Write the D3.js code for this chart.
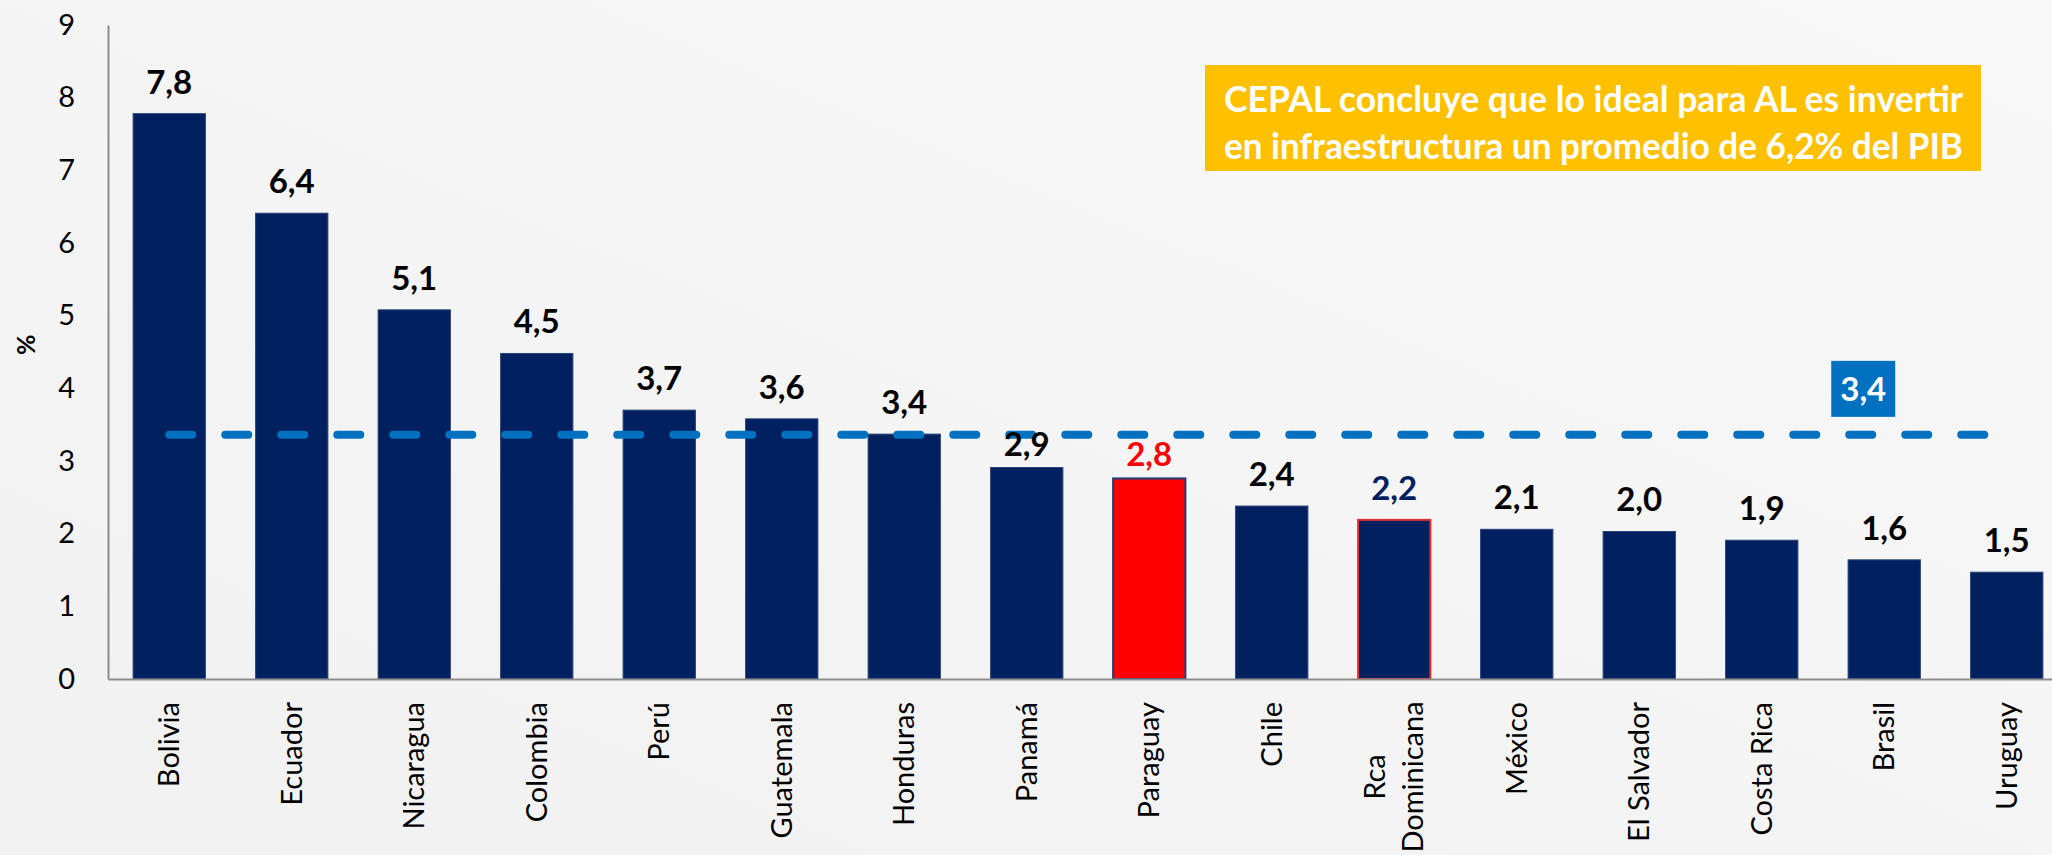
<!DOCTYPE html>
<html>
<head>
<meta charset="utf-8">
<script src="https://cdn.jsdelivr.net/npm/d3@7"></script>
<style>
  html, body { margin: 0; padding: 0; }
  body { width: 2052px; height: 855px; overflow: hidden; background: #f4f4f4; }
  svg { display: block; font-family: Lato, "Noto Sans", sans-serif; }
</style>
</head>
<body>
<svg id="chart"></svg>
<script>
// data
const countries = ['Bolivia', 'Ecuador', 'Nicaragua', 'Colombia', 'Perú', 'Guatemala', 'Honduras', 'Panamá',
    'Paraguay', 'Chile', 'Rca\nDominicana', 'México', 'El Salvador', 'Costa Rica', 'Brasil', 'Uruguay']
const values = [7.78, 6.41, 5.08, 4.48, 3.70, 3.58, 3.37, 2.91, 2.76, 2.38, 2.19, 2.06, 2.03, 1.91, 1.64, 1.47]
const average = 3.36
const yTicks = [0, 1, 2, 3, 4, 5, 6, 7, 8, 9]
const noteLines = ['CEPAL concluye que lo ideal para AL es invertir', 'en infraestructura un promedio de 6,2% del PIB']

const width = 2052
const height = 855
const margin = { top: 25, right: -16, bottom: 176, left: 108 }

const navy = '#002060'
const fmt = v => d3.format('.1f')(v).replace('.', ',')

const svg = d3.select('#chart')
    .attr('width', width)
    .attr('height', height)

// soft background
const grad = svg.append('defs').append('linearGradient')
    .attr('id', 'bg').attr('x1', 0).attr('y1', 1).attr('x2', 1).attr('y2', 0)
grad.append('stop').attr('offset', 0).attr('stop-color', '#f1f1f1')
grad.append('stop').attr('offset', 1).attr('stop-color', '#f8f8f8')
svg.append('rect').attr('width', width).attr('height', height).attr('fill', 'url(#bg)')

const x = d3.scaleBand()
    .domain(countries)
    .range([margin.left, width - margin.right])
    .paddingInner(0.41)
    .paddingOuter(0.205)

const y = d3.scaleLinear()
    .domain([0, 9])
    .range([height - margin.bottom, margin.top])

// y axis
const yAxis = svg.append('g')
    .attr('transform', `translate(${margin.left},0)`)
    .call(d3.axisLeft(y).tickValues(yTicks).tickSize(0).tickPadding(33).tickFormat(d3.format('d')))
yAxis.select('.domain').attr('stroke', '#8c8c8c').attr('stroke-width', 2)
yAxis.selectAll('text')
    .attr('font-family', 'Lato, sans-serif')
    .attr('font-size', 29)
    .attr('fill', '#000')

svg.append('text')
    .attr('transform', `translate(26, ${y(4.6)}) rotate(-90)`)
    .attr('text-anchor', 'middle')
    .attr('dy', '0.35em')
    .attr('font-size', 25)
    .attr('font-weight', 'bold')
    .text('%')

// bars
svg.append('g').selectAll('rect')
    .data(countries)
    .enter()
    .append('rect')
    .attr('x', d => x(d))
    .attr('y', (d, i) => y(values[i]))
    .attr('width', x.bandwidth())
    .attr('height', (d, i) => y(0) - y(values[i]))
    .attr('fill', d => d === 'Paraguay' ? '#ff0000' : navy)
    .attr('stroke', d => d === 'Rca\nDominicana' ? '#e03030' : (d === 'Paraguay' ? '#1f3c7a' : '#2a4476'))
    .attr('stroke-width', d => d === 'Rca\nDominicana' || d === 'Paraguay' ? 2 : 1)

// x axis baseline
const xAxis = svg.append('g')
    .attr('transform', `translate(0,${y(0)})`)
    .call(d3.axisBottom(x).tickSize(0).tickFormat(''))
xAxis.select('.domain').attr('stroke', '#8c8c8c').attr('stroke-width', 2)

// category labels (rotated)
svg.append('g').selectAll('text')
    .data(countries)
    .enter()
    .append('text')
    .attr('font-size', 29)
    .attr('fill', '#000')
    .each(function(d) {
        const cx = x(d) + x.bandwidth() / 2
        const lines = d.split('\n')
        const t = d3.select(this)
        if (lines.length === 1) {
            t.attr('transform', `translate(${cx}, ${y(0) + 23}) rotate(-90)`)
                .attr('text-anchor', 'end')
                .attr('dy', '0.35em')
                .text(d)
        } else {
            // two-line label is centred as a block
            t.attr('transform', `translate(${cx}, ${y(0) + 98}) rotate(-90)`)
                .attr('text-anchor', 'middle')
            lines.forEach((line, k) => {
                t.append('tspan')
                    .attr('x', 0)
                    .attr('y', (k - (lines.length - 1) / 2) * 38)
                    .attr('dy', '0.35em')
                    .text(line)
            })
        }
    })

// average dashed line
const first = countries[0], last = countries[countries.length - 1]
svg.append('line')
    .attr('x1', x(first) + x.bandwidth() / 2)
    .attr('x2', x(last) + x.bandwidth() / 2)
    .attr('y1', y(average))
    .attr('y2', y(average))
    .attr('stroke', '#0070c0')
    .attr('stroke-width', 8)
    .attr('stroke-linecap', 'round')
    .attr('stroke-dasharray', '23 33')

const avgBox = svg.append('g')
    .attr('transform', `translate(${x('Brasil') + x.bandwidth() / 2 - 21}, ${y(average) - 46})`)
avgBox.append('rect')
    .attr('x', -32).attr('y', -28)
    .attr('width', 64).attr('height', 56)
    .attr('fill', '#0070c0')
avgBox.append('text')
    .attr('text-anchor', 'middle')
    .attr('dy', '0.36em')
    .attr('font-size', 33)
    .attr('font-weight', 'bold')
    .attr('fill', '#fff')
    .text(fmt(average))

// value labels (on top of the line), nudged closer to the bar when they would hit it
const labelGap = v => {
    const top = y(v) - 20 - 24
    return (top < y(average) + 6 && y(v) - 20 > y(average)) ? 12 : 20
}
svg.append('g').selectAll('text')
    .data(countries)
    .enter()
    .append('text')
    .attr('x', d => x(d) + x.bandwidth() / 2)
    .attr('y', (d, i) => y(values[i]) - labelGap(values[i]))
    .attr('text-anchor', 'middle')
    .attr('font-size', 33)
    .attr('font-weight', 'bold')
    .attr('fill', d => d === 'Paraguay' ? '#ff0000' : (d === 'Rca\nDominicana' ? navy : '#000'))
    .text((d, i) => fmt(values[i]))

// CEPAL note
const note = svg.append('g').attr('transform', 'translate(1205, 65)')
note.append('rect')
    .attr('width', 776)
    .attr('height', 106)
    .attr('fill', '#ffc000')
note.selectAll('text')
    .data(noteLines)
    .enter()
    .append('text')
    .attr('x', 19)
    .attr('y', (d, i) => 34 + i * 47)
    .attr('dy', '0.35em')
    .attr('font-size', 36)
    .attr('font-weight', 'bold')
    .attr('fill', '#fff')
    .attr('textLength', 739)
    .attr('lengthAdjust', 'spacingAndGlyphs')
    .text(d => d)
</script>
</body>
</html>
